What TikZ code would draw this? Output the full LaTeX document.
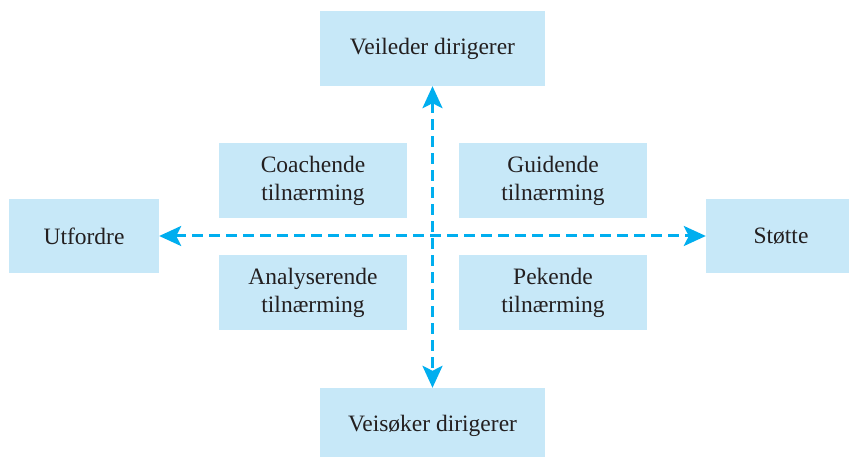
\documentclass[tikz,border=0pt]{standalone}
\usepackage{fontspec}
\setmainfont{Liberation Serif}
\usetikzlibrary{arrows.meta}
\definecolor{boxblue}{HTML}{C7E8F8}
\definecolor{arrowblue}{HTML}{00AEEF}
\definecolor{textgray}{HTML}{231F20}

\begin{document}
\begin{tikzpicture}[x=1pt,y=-1pt,
    box/.style={fill=boxblue, text=textgray, align=center, inner sep=0pt,
      minimum height=75pt, font=\fontsize{23.5}{28}\selectfont},
    axis/.style={arrowblue, line width=3pt, dash pattern=on 11pt off 6pt,
      {Stealth[length=22pt,width=20pt,inset=5pt]}-{Stealth[length=22pt,width=20pt,inset=5pt]}}]

    \path[use as bounding box, fill=white] (0,0) rectangle (849,457);

    % ends of the two axes
    \node[box, minimum width=225pt] (veileder) at (432.5,48.5) {Veileder dirigerer};
    \node[box, minimum width=225pt] (veisoker) at (432.5,425.5) {Veisøker dirigerer};
    \node[box, minimum width=150pt, minimum height=74pt] (utfordre) at (84,236) {Utfordre};
    \node[box, minimum width=150pt, minimum height=74pt] (stotte) at (781,236) {Støtte};

    % the four approaches
    \node[box, minimum width=188pt] (coach) at (313,180.5) {Coachende\\tilnærming};
    \node[box, minimum width=188pt] (guide) at (553,180.5) {Guidende\\tilnærming};
    \node[box, minimum width=188pt] (analyse) at (313,292.5) {Analyserende\\tilnærming};
    \node[box, minimum width=188pt] (peke) at (553,292.5) {Pekende\\tilnærming};

    \draw[axis] (veileder) -- (veisoker);
    \draw[axis] (utfordre) -- (stotte);

\end{tikzpicture}
\end{document}
